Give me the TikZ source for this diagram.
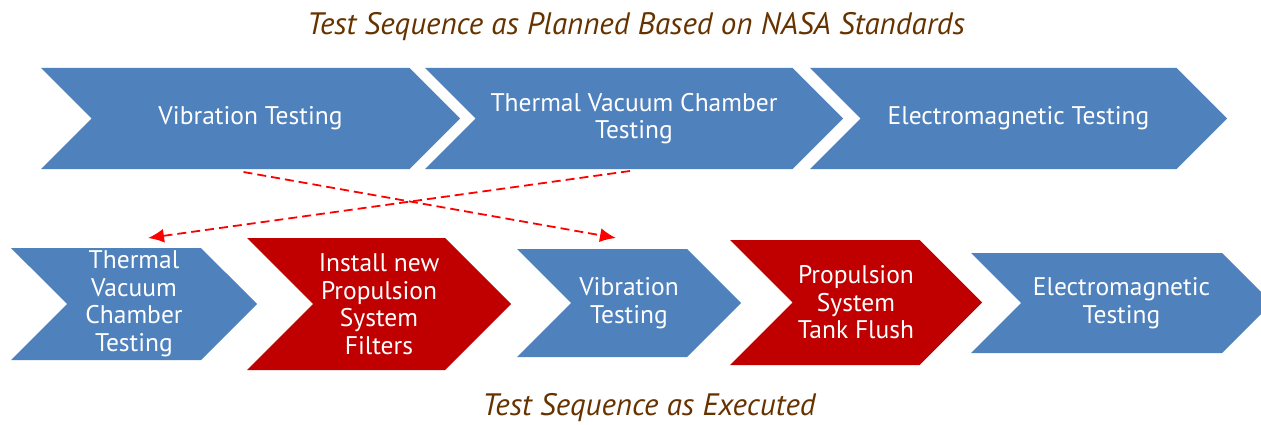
\documentclass[tikz,border=0pt]{standalone}
\usepackage{fontspec}
\setmainfont{PT Sans}
\usetikzlibrary{shapes.symbols, arrows.meta}
\definecolor{stepblue}{RGB}{79,129,189}
\definecolor{stepred}{RGB}{192,0,0}
\definecolor{titlebrown}{RGB}{102,51,0}
\begin{document}
\begin{tikzpicture}[x=1pt, y=-1pt,
  every node/.style = {align=center, inner sep=0pt, outer sep=0pt},
  chevron/.style = {shape=signal, signal from=west, signal to=east,
    fill=stepblue, text=white, font=\fontsize{25.5}{27.5}\selectfont},
  extra/.style = {chevron, fill=stepred},
  title/.style = {text=titlebrown, font=\fontsize{31}{34}\selectfont\itshape},
  move/.style = {draw=red, dash pattern=on 9pt off 5pt, line width=1.8pt,
    -{Latex[length=16pt, width=14pt]}}]
  \useasboundingbox (0,0) rectangle (1261,425);
  % planned sequence
  \node[title] (plan) at (636,27) {Test Sequence as Planned Based on NASA Standards};
  \node[chevron, minimum width=419pt, minimum height=101pt] (vib) at (250.5,118.5)
    {Vibration Testing};
  \node[chevron, minimum width=418pt, minimum height=101pt] (tvac) at (634,118.5)
    {Thermal Vacuum Chamber\\Testing};
  \node[chevron, minimum width=417pt, minimum height=101pt] (emi) at (1018.5,118.5)
    {Electromagnetic Testing};
  % executed sequence
  \node[chevron, minimum width=246pt, minimum height=112pt] (tvac2) at (134,304)
    {Thermal\\Vacuum\\Chamber\\Testing};
  \node[extra, minimum width=264pt, minimum height=132pt] (filter) at (379,304)
    {Install new\\Propulsion\\System\\Filters};
  \node[chevron, minimum width=224pt, minimum height=108pt] (vib2) at (629,303)
    {Vibration\\Testing};
  \node[extra, minimum width=252pt, minimum height=125pt] (flush) at (856,302.5)
    {Propulsion\\System\\Tank Flush};
  \node[chevron, minimum width=301pt, minimum height=100pt] (emi2) at (1121.5,303)
    {Electromagnetic\\Testing};
  \node[title] (done) at (649,408) {Test Sequence as Executed};
  % swapped steps
  \draw[move] ([xshift=-7pt, yshift=-3pt]vib.south) -- ([xshift=-13pt, yshift=11pt]vib2.north);
  \draw[move] ([xshift=-4pt, yshift=-2pt]tvac.south) -- ([xshift=14pt, yshift=10pt]tvac2.north);
\end{tikzpicture}
\end{document}
